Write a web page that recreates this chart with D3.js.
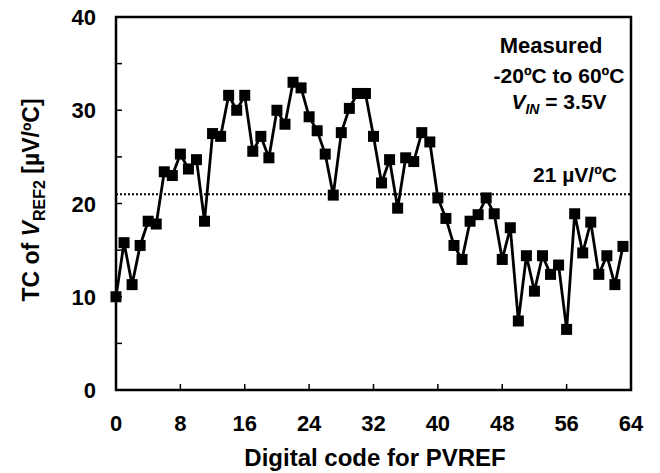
<!DOCTYPE html>
<html><head><meta charset="utf-8">
<script src="https://cdn.jsdelivr.net/npm/d3@7"></script>
<style>body{margin:0;background:#fff}svg{display:block}text{font-family:"Liberation Sans",Arial,sans-serif;font-weight:bold;fill:#000}</style>
</head><body><svg id="c" width="660" height="473"></svg>
<script>
const codes = d3.range(0, 64);
const tcValues = [10.0,15.8,11.3,15.5,18.1,17.8,23.4,23.0,25.3,23.7,
  24.7,18.1,27.5,27.2,31.6,30.0,31.6,25.6,27.2,24.9,
  30.0,28.5,33.0,32.4,29.3,27.8,25.3,20.9,27.6,30.2,
  31.8,31.8,27.2,22.2,24.7,19.5,24.9,24.5,27.6,26.6,
  20.6,18.4,15.5,14.0,18.1,18.8,20.6,18.9,14.0,17.4,
  7.4,14.4,10.6,14.4,12.4,13.4,6.5,18.9,14.7,18.0,
  12.4,14.4,11.3,15.4];
const xTicks = [0,8,16,24,32,40,48,56,64];
const yTicks = [0,10,20,30,40];
const yMinorTicks = [5,15,25,35];
const refLevel = 21;

const svg = d3.select("#c");
const L = 116, R = 631, T = 17, B = 390;
const x = d3.scaleLinear().domain([0,64]).range([L,R]);
const y = d3.scaleLinear().domain([0,40]).range([B,T]);

// ticks (inside)
const g = svg.append("g");
g.selectAll(".yt").data(yTicks.concat(yMinorTicks)).join("line")
  .attr("x1", L).attr("x2", L+6).attr("y1", d=>y(d)).attr("y2", d=>y(d))
  .attr("stroke","#000").attr("stroke-width",1.5);
g.selectAll(".xt").data(xTicks).join("line")
  .attr("x1", d=>x(d)).attr("x2", d=>x(d)).attr("y1", B).attr("y2", B-6)
  .attr("stroke","#000").attr("stroke-width",1.5);

// frame
svg.append("rect").attr("x",L).attr("y",T).attr("width",R-L).attr("height",B-T)
  .attr("fill","none").attr("stroke","#000").attr("stroke-width",2.5);

// reference dotted line
svg.append("line").attr("x1",L).attr("x2",R).attr("y1",y(refLevel)).attr("y2",y(refLevel))
  .attr("stroke","#000").attr("stroke-width",2).attr("stroke-dasharray","2,2");

// tick labels
svg.selectAll(".yl").data(yTicks).join("text")
  .attr("x", 96).attr("y", d=>y(d)+8).attr("text-anchor","end")
  .style("font-size","22px").text(d=>d);
svg.selectAll(".xl").data(xTicks).join("text")
  .attr("x", d=>x(d)).attr("y", 431).attr("text-anchor","middle")
  .style("font-size","22px").text(d=>d);

// axis titles
svg.append("text").attr("x", 375).attr("y", 466).attr("text-anchor","middle")
  .style("font-size","24px").text("Digital code for PVREF");
const yt = svg.append("text").attr("transform","translate(39,200) rotate(-90)")
  .attr("text-anchor","middle").style("font-size","23px");
yt.append("tspan").text("TC of ");
yt.append("tspan").style("font-style","italic").text("V");
yt.append("tspan").attr("dy",6).style("font-size","16px").text("REF2");
yt.append("tspan").attr("dy",-6).text(" [µV/ºC]");

// line + markers
const line = d3.line().x((d,i)=>x(codes[i])).y(d=>y(d));
svg.append("path").datum(tcValues).attr("d",line)
  .attr("fill","none").attr("stroke","#000").attr("stroke-width",2.8).attr("stroke-linejoin","miter");
const ms = 11;
svg.selectAll(".m").data(tcValues).join("rect")
  .attr("x",(d,i)=>x(codes[i])-ms/2).attr("y",d=>y(d)-ms/2)
  .attr("width",ms).attr("height",ms).attr("fill","#000");

// annotations
svg.append("text").attr("x",551).attr("y",53).attr("text-anchor","middle").style("font-size","22px").text("Measured");
svg.append("text").attr("x",559).attr("y",83).attr("text-anchor","middle").style("font-size","21px").text("-20ºC to 60ºC");
const vin = svg.append("text").attr("x",559).attr("y",109).attr("text-anchor","middle").style("font-size","21px");
vin.append("tspan").style("font-style","italic").text("V");
vin.append("tspan").attr("dy",5).style("font-size","14px").style("font-style","italic").text("IN");
vin.append("tspan").attr("dy",-5).text(" = 3.5V");
svg.append("text").attr("x",617).attr("y",182).attr("text-anchor","end").style("font-size","21px").text("21 µV/ºC");
</script></body></html>
